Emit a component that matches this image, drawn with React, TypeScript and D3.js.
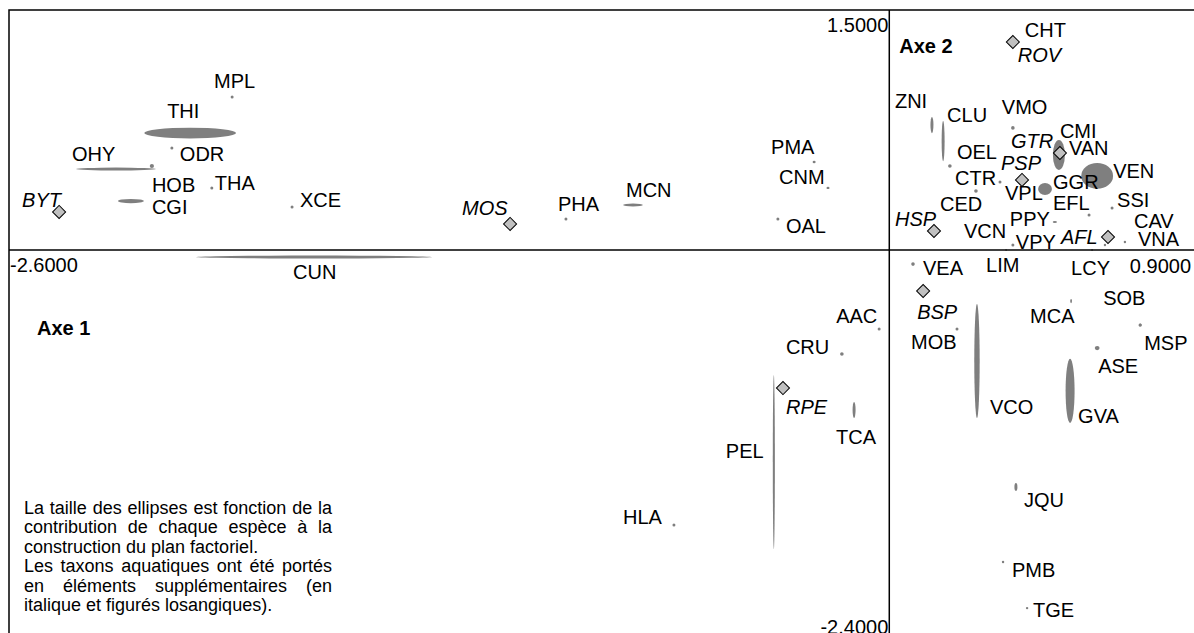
import React, { useEffect, useRef } from "react";
import * as d3 from "d3";

const WIDTH = 1194;
const HEIGHT = 633;

// bornes du plan factoriel (Axe 1 horizontal, Axe 2 vertical)
const xDomain: [number, number] = [-2.6, 0.9];
const yDomain: [number, number] = [1.5, -2.4];
const xBoundLabels = ["-2.6000", "0.9000"];
const yBoundLabels = ["1.5000", "-2.4000"];

// espèces terrestres (éléments actifs)
const taxa = [
  "MPL", "THI", "ODR", "OHY", "HOB", "CGI", "THA", "XCE", "CUN", "PHA",
  "MCN", "PMA", "CNM", "OAL", "CHT", "ZNI", "CLU", "OEL", "CTR", "CED",
  "VMO", "CMI", "VAN", "VPL", "GGR", "VEN", "EFL", "SSI", "CAV", "VNA",
  "PPY", "VPY", "VCN", "VEA", "LIM", "LCY", "SOB", "MCA", "MOB", "VCO",
  "MSP", "ASE", "GVA", "JQU", "PMB", "TGE", "AAC", "CRU", "PEL", "TCA",
  "HLA",
];
const axe1 = [
  -1.941, -2.065, -2.119, -2.284, -2.178, -2.240, -2.001, -1.764, -1.699, -0.955,
  -0.757, -0.222, -0.181, -0.329, 0.365, 0.126, 0.159, 0.179, 0.327, 0.256,
  0.365, 0.501, 0.501, 0.392, 0.460, 0.614, 0.590, 0.658, 0.637, 0.696,
  0.489, 0.365, 0.132, 0.070, 0.345, 0.599, 0.741, 0.537, 0.200, 0.259,
  0.741, 0.614, 0.534, 0.374, 0.336, 0.407, -0.030, -0.140, -0.341, -0.104,
  -0.636,
];
const axe2 = [
  0.956, 0.731, 0.638, 0.506, 0.525, 0.306, 0.388, 0.269, -0.044, 0.194,
  0.281, 0.550, 0.388, 0.194, 1.300, 0.781, 0.681, 0.525, 0.425, 0.369,
  0.763, 0.594, 0.594, 0.431, 0.381, 0.463, 0.219, 0.263, 0.031, 0.050,
  0.175, 0.031, 0.119, -0.088, 0.000, 0.000, -0.469, -0.319, -0.494, -0.694,
  -0.469, -0.613, -0.881, -1.481, -1.950, -2.238, -0.494, -0.650, -1.325, -1.000,
  -1.719,
];
// contributions (%) aux axes 1 et 2
const ctr1 = [
  0.5, 15.3, 0.5, 13.3, 0.7, 4.3, 0.5, 0.5, 39.3, 0.5,
  3.3, 0.5, 0.5, 0.5, 0.5, 0.5, 0.5, 0.6, 0.5, 0.6,
  0.6, 2.0, 0.5, 0.5, 2.3, 5.3, 0.5, 0.5, 0.4, 0.4,
  0.7, 0.5, 0.5, 0.6, 0.3, 0.3, 0.5, 0.3, 0.5, 0.9,
  0.5, 0.8, 1.5, 0.5, 0.4, 0.4, 0.5, 0.6, 0.35, 0.5,
  0.5,
];
const ctr2 = [
  0.5, 1.8, 0.5, 0.5, 0.7, 0.7, 0.5, 0.5, 0.5, 0.5,
  0.5, 0.4, 0.4, 0.5, 0.5, 2.7, 6.7, 0.6, 0.5, 0.6,
  0.6, 5.0, 0.5, 0.5, 2.0, 4.3, 0.5, 0.5, 0.4, 0.4,
  0.35, 0.5, 0.5, 0.6, 0.3, 0.3, 0.5, 0.7, 0.5, 19.0,
  0.5, 0.7, 10.7, 1.3, 0.4, 0.4, 0.5, 0.6, 29.0, 2.7,
  0.5,
];

// taxons aquatiques (éléments supplémentaires)
const aquaTaxa = ["BYT", "MOS", "ROV", "GTR", "PSP", "HSP", "AFL", "BSP", "RPE"];
const aquaAxe1 = [-2.452, -1.120, 0.365, 0.504, 0.392, 0.132, 0.646, 0.100, -0.314];
const aquaAxe2 = [0.238, 0.163, 1.300, 0.606, 0.438, 0.119, 0.081, -0.256, -0.863];

// placement des étiquettes (px, par rapport au point)
const labelOffsets: Record<string, [number, number]> = {
  MPL: [-18, -9], THI: [-23, -15], ODR: [8, 13], OHY: [-44, -8], HOB: [0, 26],
  CGI: [21, 13], THA: [3, 2], XCE: [8, 0], CUN: [-21, 22], PHA: [-8, -8],
  MCN: [-7, -8], PMA: [-43, -8], CNM: [-49, -4], OAL: [8, 14], CHT: [12, -5],
  ZNI: [-37, -17], CLU: [4, -19], OEL: [7, -7], CTR: [-45, 3], CED: [-36, 20],
  VMO: [-11, -14], CMI: [1, -17], VAN: [10, 0], VPL: [-17, 19], GGR: [8, 0],
  VEN: [16, 2], EFL: [-36, -5], SSI: [5, -1], CAV: [29, -17], VNA: [13, 4],
  PPY: [-45, 4], VPY: [3, 4], VCN: [30, 7], VEA: [10, 11], LIM: [-20, 22],
  LCY: [-21, 25], SOB: [-37, -20], MCA: [-41, 22], MOB: [-46, 20], VCO: [13, 53],
  MSP: [4, 25], ASE: [1, 25], GVA: [8, 32], JQU: [8, 20], PMB: [9, 15],
  TGE: [6, 9], AAC: [-43, -6], CRU: [-56, 0], PEL: [-48, -4], TCA: [-18, 34],
  HLA: [-51, -1],
  BYT: [-37, -5], MOS: [-48, -9], ROV: [5, 20], GTR: [-49, -5], PSP: [-21, -10],
  HSP: [-39, -5], AFL: [-47, 7], BSP: [-6, 28], RPE: [3, 26],
};

const noteLines = [
  { text: "La taille des ellipses est fonction de la", justify: true },
  { text: "contribution de chaque espèce à la", justify: true },
  { text: "construction du plan factoriel.", justify: false },
  { text: "Les taxons aquatiques ont été portés", justify: true },
  { text: "en éléments supplémentaires (en", justify: true },
  { text: "italique et figurés losangiques).", justify: false },
];

const FONT = "'Liberation Sans', Arial, sans-serif";

function FactorialPlane() {
  const svgRef = useRef<SVGSVGElement>(null);

  useEffect(() => {
    const svg = d3.select(svgRef.current);
    svg.selectAll("*").remove();

    const x = d3.scaleLinear().domain(xDomain).range([9, 1194]);
    const y = d3.scaleLinear().domain(yDomain).range([10, 634]);
    const size = d3.scaleLinear().domain([0, 1]).range([0, 3]);

    const g = svg.append("g").attr("font-family", FONT);

    // cadre
    g.append("rect")
      .attr("x", x(xDomain[0]))
      .attr("y", y(yDomain[0]))
      .attr("width", x(xDomain[1]) - x(xDomain[0]) + 4)
      .attr("height", y(yDomain[1]) - y(yDomain[0]) + 4)
      .attr("fill", "none")
      .attr("stroke", "#000")
      .attr("stroke-width", 1.5);

    const active = taxa.map((name, i) => ({
      name,
      x: axe1[i],
      y: axe2[i],
      c1: ctr1[i],
      c2: ctr2[i],
    }));
    const supp = aquaTaxa.map((name, i) => ({
      name,
      x: aquaAxe1[i],
      y: aquaAxe2[i],
    }));

    // ellipses (espèces)
    g.append("g")
      .selectAll("ellipse")
      .data(active)
      .join("ellipse")
      .attr("cx", (d) => x(d.x))
      .attr("cy", (d) => y(d.y))
      .attr("rx", (d) => Math.max(size(d.c1), 0.9))
      .attr("ry", (d) => Math.max(size(d.c2), 0.9))
      .attr("fill", "#7f7f7f");

    // axes
    g.append("line")
      .attr("x1", x(xDomain[0]))
      .attr("x2", x(xDomain[1]) + 4)
      .attr("y1", y(0))
      .attr("y2", y(0))
      .attr("stroke", "#000")
      .attr("stroke-width", 1.5);
    g.append("line")
      .attr("x1", x(0))
      .attr("x2", x(0))
      .attr("y1", y(yDomain[0]))
      .attr("y2", y(yDomain[1]) + 4)
      .attr("stroke", "#000")
      .attr("stroke-width", 1.5);

    // losanges (taxons aquatiques)
    const diamond = d3.symbol().type(d3.symbolSquare).size(85);
    g.append("g")
      .selectAll("path")
      .data(supp)
      .join("path")
      .attr("d", diamond() as string)
      .attr("transform", (d) => `translate(${x(d.x)},${y(d.y)}) rotate(45)`)
      .attr("fill", "#c0c0c0")
      .attr("stroke", "#000")
      .attr("stroke-width", 1);

    // étiquettes
    g.append("g")
      .attr("font-size", 20)
      .selectAll("text")
      .data(active)
      .join("text")
      .attr("x", (d) => x(d.x) + labelOffsets[d.name][0])
      .attr("y", (d) => y(d.y) + labelOffsets[d.name][1])
      .text((d) => d.name);

    g.append("g")
      .attr("font-size", 20)
      .attr("font-style", "italic")
      .selectAll("text")
      .data(supp)
      .join("text")
      .attr("x", (d) => x(d.x) + labelOffsets[d.name][0])
      .attr("y", (d) => y(d.y) + labelOffsets[d.name][1])
      .text((d) => d.name);

    // bornes
    const bounds = g.append("g").attr("font-size", 20);
    bounds
      .append("text")
      .attr("x", x(xDomain[0]) + 1)
      .attr("y", y(0) + 22)
      .text(xBoundLabels[0]);
    bounds
      .append("text")
      .attr("x", x(xDomain[1]) - 3)
      .attr("y", y(0) + 23)
      .attr("text-anchor", "end")
      .text(xBoundLabels[1]);
    bounds
      .append("text")
      .attr("x", x(0) - 1)
      .attr("y", y(yDomain[0]) + 22)
      .attr("text-anchor", "end")
      .text(yBoundLabels[0]);
    bounds
      .append("text")
      .attr("x", x(0) - 1)
      .attr("y", y(yDomain[1]))
      .attr("text-anchor", "end")
      .text(yBoundLabels[1]);

    // titres des axes
    g.append("text")
      .attr("x", x(xDomain[0]) + 28)
      .attr("y", y(0) + 85)
      .attr("font-size", 20)
      .attr("font-weight", "bold")
      .text("Axe 1");
    g.append("text")
      .attr("x", x(0) + 10)
      .attr("y", y(yDomain[0]) + 43)
      .attr("font-size", 20)
      .attr("font-weight", "bold")
      .text("Axe 2");

    // note (texte justifié)
    const noteLeft = 24;
    const noteRight = 332;
    const note = g.append("g").attr("font-size", 18);
    noteLines.forEach((line, i) => {
      const t = note
        .append("text")
        .attr("x", noteLeft)
        .attr("y", 514 + i * 19.4)
        .text(line.text);
      if (line.justify) {
        const w = (t.node() as SVGTextElement).getComputedTextLength();
        const spaces = line.text.split(" ").length - 1;
        t.style("word-spacing", `${(noteRight - noteLeft - w) / spaces}px`);
      }
    });
  }, []);

  return (
    <svg
      ref={svgRef}
      width={WIDTH}
      height={HEIGHT}
      style={{ position: "absolute", left: 0, top: 0, background: "#fff" }}
    />
  );
}

export default function App() {
  return <FactorialPlane />;
}
